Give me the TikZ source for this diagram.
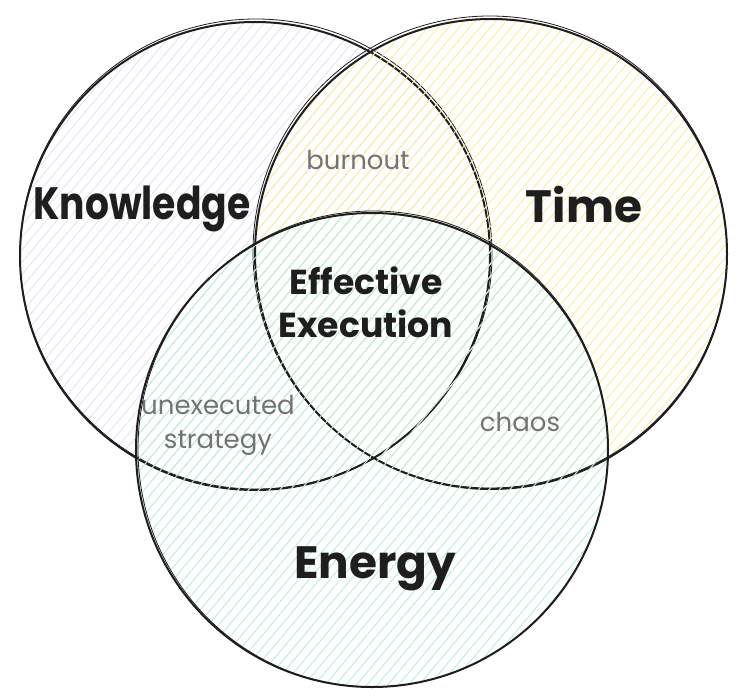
\documentclass[tikz,border=0pt]{standalone}
\usepackage{fontspec}
\setmainfont{Poppins}
\usetikzlibrary{patterns.meta}
\definecolor{inkdark}{HTML}{1E1E1E}
\definecolor{notegrey}{HTML}{737373}
\definecolor{knowhatch}{HTML}{E1E6F2}
\definecolor{timehatch}{HTML}{FBEEA4}
\definecolor{energyhatch}{HTML}{B9F0D8}
\newcommand{\narrowtext}[1]{\scalebox{0.83}[1]{#1}}
\tikzset{
  ring/.style={draw=inkdark, line width=1.5pt},
  ringtrace/.style={draw=inkdark, line width=0.6pt},
  hatch/.style={pattern={Lines[angle=50,distance=6pt,line width=0.75pt]}, pattern color=#1},
  biglabel/.style={text=inkdark, font=\fontsize{34}{40}\selectfont\bfseries},
  midlabel/.style={text=inkdark, font=\fontsize{26}{32}\selectfont\bfseries, align=center},
  notelabel/.style={text=notegrey, font=\fontsize{19.5}{25.5}\selectfont, align=center}
}
\begin{document}
\begin{tikzpicture}[x=0.75pt,y=-0.75pt]
\useasboundingbox (0,0) rectangle (743,699);
\path[hatch=knowhatch] (255,256) circle [radius=235];
\draw[ring] (255,256) circle [x radius=235, y radius=234];
\draw[ringtrace] (256,254) circle [x radius=236, y radius=235];
\path[hatch=timehatch] (491,254) circle [radius=236];
\draw[ring] (491,254) circle [x radius=236, y radius=235];
\draw[ringtrace] (490,252) circle [x radius=237, y radius=236];
\path[hatch=energyhatch] (372,450) circle [radius=236];
\draw[ring] (372,450) circle [x radius=236, y radius=237];
\draw[ringtrace] (373,449) circle [x radius=235, y radius=238];
\node[biglabel] (knowledge) at (142,209) {\narrowtext{Knowledge}};
\node[biglabel] (time) at (584,205) {Time};
\node[biglabel] (energy) at (375,569) {Energy};
\node[midlabel] (execution) at (366,302) {Effective\\Execution};
\node[notelabel] (burnout) at (358,160) {burnout};
\node[notelabel] (strategy) at (218,425) {unexecuted\\strategy};
\node[notelabel] (chaos) at (520,422) {chaos};
\end{tikzpicture}
\end{document}
